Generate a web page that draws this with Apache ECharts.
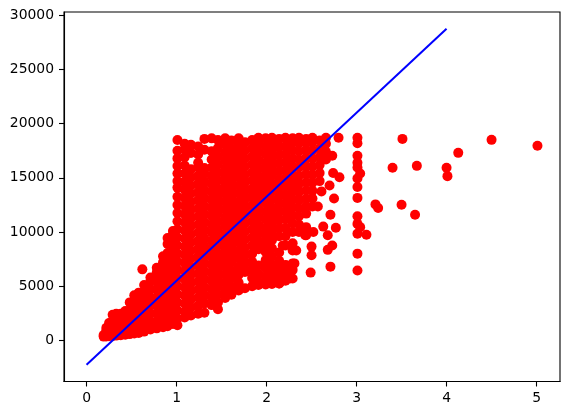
<!DOCTYPE html>
<html>
<head>
<meta charset="utf-8">
<style>
  html, body { margin: 0; padding: 0; background: #fff; }
  #chart { width: 570px; height: 415px; }
</style>
<script src="https://cdn.jsdelivr.net/npm/echarts@6/dist/echarts.min.js"></script>
</head>
<body>
<div id="chart"></div>
<script>
// tick labels
const xTicks = [0, 1, 2, 3, 4, 5];
const yTicks = [0, 5000, 10000, 15000, 20000, 25000, 30000];

// main cloud
const carats = [0.19, 0.22, 0.25, 0.29, 0.33, 0.38, 0.43, 0.48, 0.53, 0.58, 0.64, 0.71, 0.78, 0.85, 0.90, 0.96,
  1.01, 1.09, 1.16, 1.24, 1.31, 1.39, 1.46, 1.54, 1.61, 1.69, 1.76, 1.84, 1.91, 1.99,
  2.06, 2.14, 2.21, 2.29, 2.36, 2.44, 2.51, 2.59, 2.66];
const prices = [
  [340, 480],
  [350, 900, 1150],
  [370, 950, 1600],
  [400, 1050, 1800, 2350],
  [430, 1150, 1850, 2450],
  [470, 1200, 1950, 2450],
  [520, 1250, 2000, 2700],
  [570, 1300, 2050, 2800, 3500],
  [620, 1350, 2100, 2850, 3600, 4150],
  [680, 1400, 2150, 2900, 3650, 4400],
  [800, 1450, 2200, 2950, 3700, 4450, 5100],
  [1000, 1700, 2450, 3200, 3950, 4700, 5450, 5800],
  [1100, 1750, 2500, 3250, 4000, 4750, 5500, 6250, 6700],
  [1200, 1950, 2700, 3450, 4200, 4950, 5700, 6450, 7200, 7750],
  [1300, 2050, 2800, 3550, 4300, 5050, 5800, 6550, 7300, 8050, 8900, 9450],
  [1500, 2250, 3000, 3750, 4500, 5250, 6000, 6750, 7500, 8250, 9000, 9750, 10100],
  [1380, 2000, 2750, 3500, 4250, 5000, 5750, 6500, 7250, 8000, 8750, 9500, 10250, 11000, 11750, 12500, 13250, 14100, 14700, 15400, 16100, 16800, 17500, 18500],
  [2100, 2650, 3400, 4150, 4900, 5650, 6400, 7150, 7900, 8650, 9400, 10150, 10900, 11650, 12400, 13150, 13900, 14650, 15400, 16150, 16900, 17650, 18150],
  [2300, 3050, 3800, 4550, 5300, 6050, 6800, 7550, 8300, 9050, 9800, 10550, 11300, 12050, 12800, 13550, 14300, 15050, 15800, 17300, 18050],
  [2450, 3200, 3950, 4700, 5450, 6200, 6950, 7700, 8450, 9200, 9950, 10700, 11450, 12200, 12950, 13700, 14450, 15200, 15950, 16400, 17150, 17900],
  [2550, 3400, 4150, 4900, 5650, 6400, 7150, 7900, 8650, 9400, 10150, 10900, 11650, 12400, 13150, 13900, 14650, 15400, 15900, 17600, 18600],
  [3250, 3950, 4700, 5450, 6200, 6950, 7700, 8450, 9200, 9950, 10700, 11450, 12200, 12950, 13700, 14450, 15200, 15950, 16700, 17450, 18650],
  [2860, 3500, 4250, 5000, 5750, 6500, 7250, 8000, 8750, 9500, 10250, 11000, 11750, 12500, 13250, 14000, 14750, 15500, 16250, 17000, 17750, 18500],
  [3900, 4600, 5350, 6100, 6850, 7600, 8350, 9100, 9850, 10600, 11350, 12100, 12850, 13600, 14350, 15100, 15850, 16600, 17350, 18100, 18650],
  [4200, 4950, 5700, 6450, 7200, 7950, 8700, 9450, 10200, 10950, 11700, 12450, 13200, 13950, 14700, 15450, 16200, 16950, 17700, 18450],
  [4600, 5300, 6050, 6800, 7550, 8300, 9050, 9800, 10550, 11300, 12050, 12800, 13550, 14300, 15050, 15800, 16550, 17300, 18050, 18650],
  [4800, 6300, 7050, 7800, 8550, 9300, 10050, 10800, 11550, 12300, 13050, 13800, 14550, 15300, 16050, 16800, 17550, 18300],
  [5000, 5750, 6500, 7250, 8000, 8750, 9500, 10250, 11000, 11750, 12500, 13250, 14000, 14750, 15500, 16250, 17000, 17750, 18500],
  [5100, 5400, 6150, 6900, 8400, 9150, 9900, 10650, 11400, 12150, 12900, 13650, 14400, 15150, 15900, 16650, 17400, 18150, 18700],
  [5150, 5900, 6650, 7400, 8150, 8900, 9650, 10400, 11150, 11900, 12650, 13400, 14150, 14900, 15650, 16400, 17150, 17900, 18650],
  [5200, 5500, 6250, 7000, 7750, 8500, 9250, 10000, 10750, 11500, 12250, 13000, 13750, 14500, 15250, 16000, 16750, 17500, 18250, 18700],
  [5250, 5950, 6650, 7350, 8100, 9600, 10350, 11100, 11850, 12600, 13350, 14100, 14850, 15600, 16350, 17100, 17850, 18600],
  [5500, 6300, 6950, 8750, 9600, 10400, 11200, 11950, 12700, 13450, 14200, 14950, 15700, 16450, 17200, 17950, 18700],
  [5700, 6500, 7100, 8300, 8950, 10000, 10800, 11550, 12300, 13050, 13800, 14550, 15300, 16050, 16800, 17550, 18300, 18650],
  [10000, 10700, 11450, 12200, 12950, 13700, 14450, 15200, 15950, 16700, 17450, 18200, 18700],
  [9700, 10450, 11700, 12400, 13100, 13850, 14600, 15350, 16100, 16850, 17600, 18350, 18600],
  [12350, 13100, 13800, 14550, 15300, 16050, 16800, 17550, 18300, 18700],
  [14700, 15450, 16200, 16950, 17700, 18450],
  [16700, 17400, 18150, 18700]
];

// loose points around the cloud and out to the right
const looseCarats = [2.12, 2.18, 2.14, 2.22, 2.26, 2.31, 2.33, 2.43, 2.49, 2.50, 2.50, 2.52, 2.57, 2.61, 2.63, 2.68, 2.68,
  2.70, 2.71, 2.71, 2.73, 2.73, 2.74, 2.75, 2.77, 2.80, 2.81,
  3.01, 3.01, 3.01, 3.01, 3.01, 3.04, 3.01, 3.01, 3.01, 3.01, 3.01, 3.04, 3.01, 3.11, 3.01, 3.01,
  3.21, 3.24, 3.40, 3.50, 3.51, 3.65, 3.67, 4.00, 4.01, 4.13, 4.50, 5.01, 0.62];
const loosePrices = [6650, 8750, 5250, 6900, 5700, 7100, 8300, 9700, 6250, 8650, 7850, 10000, 12350, 13750, 10500, 9700, 8350,
  14300, 11600, 6800, 8750, 17050, 15450, 13100, 10400, 18700, 15050,
  18700, 18200, 17050, 16400, 15950, 15400, 14950, 14150, 13150, 11450, 10750, 10450, 9850, 9750, 8000, 6450,
  12550, 12210, 15930, 12520, 18600, 11600, 16110, 15930, 15160, 17310, 18510, 17960, 6550];

// fitted line
const lineCarats = [0, 4];
const linePrices = [-2256, 28768];

const points = [];
carats.forEach((c, i) => {
  prices[i].forEach((p) => points.push([c, p]));
});
looseCarats.forEach((c, i) => points.push([c, loosePrices[i]]));

const tickFont = { fontFamily: 'DejaVu Sans', fontSize: 13.9, color: '#000' };

const chart = echarts.init(document.getElementById('chart'), null, { renderer: 'canvas' });
chart.setOption({
  animation: false,
  backgroundColor: '#fff',
  grid: {
    left: 64, top: 12, width: 496, height: 369.5,
    show: true, borderColor: '#000', borderWidth: 1.1, backgroundColor: '#fff'
  },
  xAxis: {
    type: 'value',
    min: -0.2505,
    max: 5.2605,
    splitLine: { show: false },
    axisLine: { show: true, onZero: false, lineStyle: { color: '#000', width: 1.1 } },
    axisTick: { show: true, length: 5, customValues: xTicks, lineStyle: { color: '#000', width: 1.1 } },
    axisLabel: { ...tickFont, margin: 9.5, customValues: xTicks, formatter: (v) => String(v) }
  },
  yAxis: {
    type: 'value',
    min: -3807,
    max: 30319,
    splitLine: { show: false },
    axisLine: { show: true, onZero: false, lineStyle: { color: '#000', width: 1.1 } },
    axisTick: { show: true, length: 5, customValues: yTicks, lineStyle: { color: '#000', width: 1.1 } },
    axisLabel: { ...tickFont, margin: 10, customValues: yTicks, formatter: (v) => String(v) }
  },
  series: [
    {
      type: 'scatter',
      data: points,
      symbol: 'circle',
      symbolSize: 10,
      itemStyle: { color: '#ff0000', opacity: 1 },
      silent: true,
      z: 2
    },
    {
      type: 'line',
      data: lineCarats.map((c, i) => [c, linePrices[i]]),
      showSymbol: false,
      symbol: 'none',
      lineStyle: { color: '#0000ff', width: 2 },
      silent: true,
      z: 3
    }
  ]
});
</script>
</body>
</html>
